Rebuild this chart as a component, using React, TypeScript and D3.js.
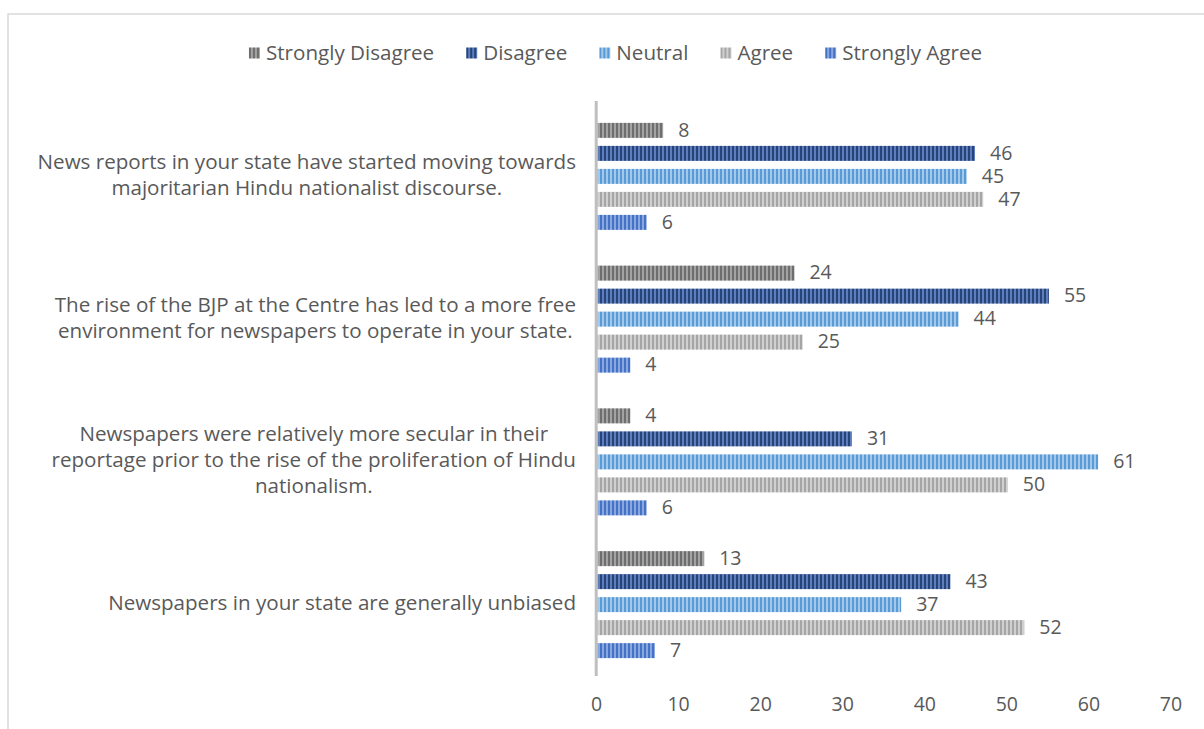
import React, { useEffect, useRef } from "react";
import * as d3 from "d3";

const categoryLines: string[][] = [
  ["News reports in your state have started moving towards", "majoritarian Hindu nationalist discourse."],
  ["The rise of the BJP at the Centre has led to a more free", "environment for newspapers to operate in your state."],
  ["Newspapers were relatively more secular in their", "reportage prior to the rise of the proliferation of Hindu", "nationalism."],
  ["Newspapers in your state are generally unbiased"],
];
const seriesNames = ["Strongly Disagree", "Disagree", "Neutral", "Agree", "Strongly Agree"];
const stronglyDisagree = [8, 24, 4, 13];
const disagree = [46, 55, 31, 43];
const neutral = [45, 44, 61, 37];
const agree = [47, 25, 50, 52];
const stronglyAgree = [6, 4, 6, 7];
const xTicks = [0, 10, 20, 30, 40, 50, 60, 70];

const seriesValues = [stronglyDisagree, disagree, neutral, agree, stronglyAgree];
const fgColors = ["#6e6e6e", "#264478", "#5b9bd5", "#a5a5a5", "#4472c4"];
const bgColors = ["#a3a3a3", "#5d7dbd", "#a2c8ec", "#d0d0d0", "#8ba7df"];

const FONT = "'Open Sans', sans-serif";
const FS = 20.6;
const FS_NUM = 19.5;
const TEXT = "#595959";

export default function App() {
  const ref = useRef<SVGSVGElement>(null);

  useEffect(() => {
    const svg = d3.select(ref.current);
    svg.selectAll("*").remove();

    const defs = svg.append("defs");
    seriesNames.forEach((_, i) => {
      const p = defs
        .append("pattern")
        .attr("id", `pat${i}`)
        .attr("patternUnits", "userSpaceOnUse")
        .attr("width", 4)
        .attr("height", 4);
      p.append("rect").attr("width", 4).attr("height", 4).attr("fill", bgColors[i]);
      p.append("rect").attr("x", 0).attr("width", 2).attr("height", 4).attr("fill", fgColors[i]);
    });

    // chart border
    svg
      .append("rect")
      .attr("x", 8)
      .attr("y", 14)
      .attr("width", 1400)
      .attr("height", 900)
      .attr("fill", "white")
      .attr("stroke", "#d9d9d9")
      .attr("stroke-width", 1.5);

    const x = d3.scaleLinear().domain([0, 70]).range([597.5, 1172]);
    const catIdx = categoryLines.map((_, i) => String(i));
    const y0 = d3.scaleBand().domain(catIdx).range([105, 676]);
    const y1 = d3
      .scaleBand()
      .domain(seriesNames)
      .range([-57.5, 57.5])
      .paddingInner(8 / 23)
      .paddingOuter(4 / 23);

    // bars
    seriesNames.forEach((s, si) => {
      const g = svg.append("g");
      g.selectAll("rect")
        .data(seriesValues[si])
        .join("rect")
        .attr("x", x(0))
        .attr("y", (_, ci) => y0(String(ci))! + y0.bandwidth() / 2 + y1(s)!)
        .attr("width", (d) => x(d) - x(0))
        .attr("height", y1.bandwidth())
        .attr("fill", `url(#pat${si})`);
      g.selectAll("text")
        .data(seriesValues[si])
        .join("text")
        .attr("x", (d) => x(d) + 15)
        .attr("y", (_, ci) => y0(String(ci))! + y0.bandwidth() / 2 + y1(s)! + y1.bandwidth() / 2 + 1)
        .attr("dominant-baseline", "middle")
        .attr("font-family", FONT)
        .attr("font-size", FS_NUM)
        .attr("fill", TEXT)
        .text((d) => String(d));
    });

    // axis line
    svg
      .append("line")
      .attr("x1", 596.2)
      .attr("x2", 596.2)
      .attr("y1", y0.range()[0] - 4)
      .attr("y2", y0.range()[1])
      .attr("stroke", "#bfbfbf")
      .attr("stroke-width", 3);

    // x tick labels
    svg
      .append("g")
      .selectAll("text")
      .data(xTicks)
      .join("text")
      .attr("x", (d) => x(d) - 1)
      .attr("y", 706)
      .attr("text-anchor", "middle")
      .attr("dominant-baseline", "middle")
      .attr("font-family", FONT)
      .attr("font-size", FS_NUM)
      .attr("fill", TEXT)
      .text((d) => String(d));

    // category labels
    const lineH = 26;
    const rightEdge = 576;
    categoryLines.forEach((lines, ci) => {
      const cy = y0(String(ci))! + y0.bandwidth() / 2;
      const g = svg.append("g");
      const texts = g
        .selectAll("text")
        .data(lines)
        .join("text")
        .attr("y", (_, li) => cy + (li - (lines.length - 1) / 2) * lineH)
        .attr("dominant-baseline", "middle")
        .attr("text-anchor", "middle")
        .attr("font-family", FONT)
        .attr("font-size", FS)
        .attr("fill", TEXT)
        .text((d) => d);
      let maxW = 0;
      texts.each(function () {
        maxW = Math.max(maxW, (this as SVGTextElement).getComputedTextLength());
      });
      texts.attr("x", rightEdge - maxW / 2);
    });

    // legend
    const leg = svg.append("g");
    let cx = 0;
    seriesNames.forEach((s, si) => {
      const item = leg.append("g").attr("transform", `translate(${cx},0)`);
      item
        .append("rect")
        .attr("x", 0)
        .attr("y", -5.5)
        .attr("width", 11)
        .attr("height", 11)
        .attr("fill", `url(#pat${si})`);
      const t = item
        .append("text")
        .attr("x", 17)
        .attr("y", 1)
        .attr("dominant-baseline", "middle")
        .attr("font-family", FONT)
        .attr("font-size", FS)
        .attr("fill", TEXT)
        .text(s);
      const w = (t.node() as SVGTextElement).getComputedTextLength();
      cx += 17 + w + 32;
    });
    const total = cx - 32;
    leg.attr("transform", `translate(${615.5 - total / 2},53)`);
  }, []);

  return (
    <svg
      ref={ref}
      width={1204}
      height={729}
      style={{ position: "absolute", left: 0, top: 0, background: "white" }}
    />
  );
}
